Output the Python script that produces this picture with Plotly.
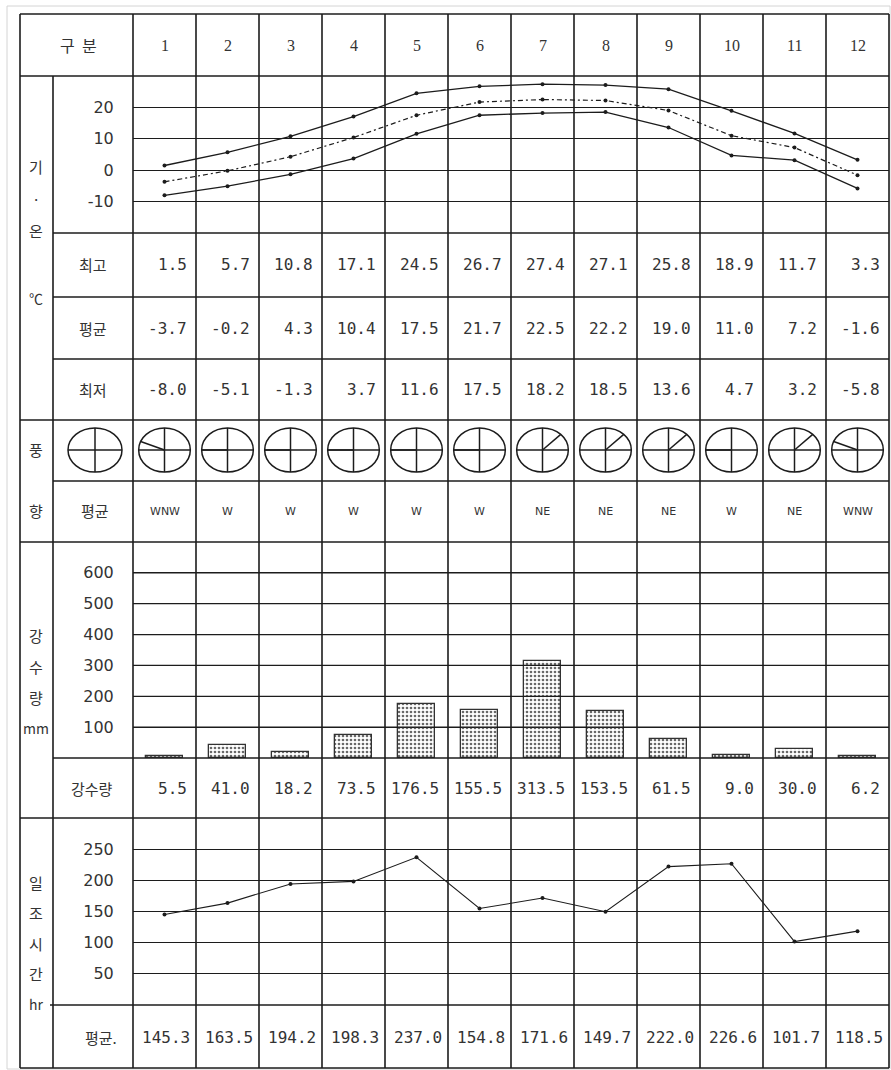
import math
import plotly.graph_objects as go

# ---------------- data ----------------
months = list(range(1, 13))
month_labels = [str(m) for m in months]
temp_max = [1.5, 5.7, 10.8, 17.1, 24.5, 26.7, 27.4, 27.1, 25.8, 18.9, 11.7, 3.3]
temp_mean = [-3.7, -0.2, 4.3, 10.4, 17.5, 21.7, 22.5, 22.2, 19.0, 11.0, 7.2, -1.6]
temp_min = [-8.0, -5.1, -1.3, 3.7, 11.6, 17.5, 18.2, 18.5, 13.6, 4.7, 3.2, -5.8]
wind_dir = ["WNW", "W", "W", "W", "W", "W", "NE", "NE", "NE", "W", "NE", "WNW"]
precip = [5.5, 41.0, 18.2, 73.5, 176.5, 155.5, 313.5, 153.5, 61.5, 9.0, 30.0, 6.2]
sunshine = [145.3, 163.5, 194.2, 198.3, 237.0, 154.8, 171.6, 149.7, 222.0, 226.6, 101.7, 118.5]
temp_ticks = [-10, 0, 10, 20]
temp_tick_text = ["-10", "0", "10", "20"]
precip_ticks = [100, 200, 300, 400, 500, 600]
sun_ticks = [50, 100, 150, 200, 250]
dir_angle = {"E": 0, "NE": 45, "N": 90, "NW": 135, "WNW": 157.5, "W": 180,
             "SW": 225, "S": 270, "SE": 315}

# ---------------- layout geometry (pixels) ----------------
W, H = 891, 1070
X_LEFT, X_SUB, X0, CW = 20, 53, 133, 63
X_RIGHT = X0 + 12 * CW
Y_TOP, Y_BOTTOM = 14, 1068

def px(x):
    return x / W

def py(y):
    return 1 - y / H

INK = "#1c1c1c"
TXT = "#333333"
KFONT = "Noto Sans CJK KR"
NFONT = "DejaVu Sans Mono"

fig = go.Figure()

line_style = dict(color=INK, width=1.3)
mk = dict(color=INK, size=4)

fig.add_trace(go.Scatter(x=months, y=temp_max, mode="lines+markers", line=line_style,
                         marker=mk, xaxis="x", yaxis="y", name="최고"))
fig.add_trace(go.Scatter(x=months, y=temp_mean, mode="lines+markers",
                         line=dict(color=INK, width=1.2, dash="5px,3px,2px,3px"),
                         marker=mk, xaxis="x", yaxis="y", name="평균"))
fig.add_trace(go.Scatter(x=months, y=temp_min, mode="lines+markers", line=line_style,
                         marker=mk, xaxis="x", yaxis="y", name="최저"))
fig.add_trace(go.Bar(x=months, y=precip, width=0.6, xaxis="x", yaxis="y2", name="강수량",
                     opacity=0.8,
                     marker=dict(color="#444444",
                                 line=dict(color="#000000", width=1.3),
                                 pattern=dict(shape=".", size=4, solidity=0.35,
                                              fgcolor="#444444",
                                              bgcolor="rgba(0,0,0,0)",
                                              fillmode="replace"))))
fig.add_trace(go.Scatter(x=months, y=sunshine, mode="lines+markers",
                         line=dict(color=INK, width=1.1), marker=mk,
                         xaxis="x", yaxis="y3", name="일조시간"))

yax_common = dict(showline=False, showgrid=True, gridcolor=INK, gridwidth=1.3,
                  zeroline=False, ticks="outside", ticklen=15,
                  tickcolor="rgba(0,0,0,0)", fixedrange=True,
                  tickfont=dict(family="DejaVu Sans", size=16, color=TXT), anchor="x")

fig.update_layout(
    width=W, height=H, margin=dict(l=0, r=0, t=0, b=0),
    paper_bgcolor="white", plot_bgcolor="rgba(0,0,0,0)", showlegend=False,
    bargap=0,
    xaxis=dict(domain=[px(X0), px(X_RIGHT)], range=[0.5, 12.5], visible=False,
               fixedrange=True, anchor="y"),
    yaxis=dict(domain=[py(233), py(76)], range=[-20, 30], tickvals=temp_ticks,
               ticktext=temp_tick_text, **yax_common),
    yaxis2=dict(domain=[py(758), py(542)], range=[0, 700], tickvals=precip_ticks, **yax_common),
    yaxis3=dict(domain=[py(1005), py(818)], range=[0, 300], tickvals=sun_ticks, **yax_common),
)

shapes = []
def hline(y, x0, x1=X_RIGHT, color=INK, width=1.6):
    shapes.append(dict(type="line", xref="paper", yref="paper", x0=px(x0), x1=px(x1),
                       y0=py(y), y1=py(y), line=dict(color=color, width=width), layer="above"))

def vline_paper(x, y0, y1, color=INK, width=1.6):
    shapes.append(dict(type="line", xref="paper", yref="paper", x0=px(x), x1=px(x),
                       y0=py(y0), y1=py(y1), line=dict(color=color, width=width), layer="above"))

# faint scan frame
shapes.append(dict(type="rect", xref="paper", yref="paper", x0=px(7), x1=px(890),
                   y0=py(1069), y1=py(6), line=dict(color="#d4d4d4", width=1)))

# precipitation grid drawn over the bars (as in the printed table)
for t in precip_ticks:
    shapes.append(dict(type="line", xref="x", yref="y2", x0=0.5, x1=12.5,
                       y0=t, y1=t, line=dict(color=INK, width=1.3), layer="above"))

# horizontal table rules
for y, x0 in [(Y_TOP, X_LEFT), (76, X_LEFT), (233, X_SUB), (297, X_SUB), (359, X_SUB),
              (420, X_LEFT), (481, X_SUB), (542, X_LEFT), (758, X_SUB), (818, X_LEFT),
              (1005, X_SUB - 3), (Y_BOTTOM, X_LEFT)]:
    hline(y, x0)

# vertical table rules
vline_paper(X_LEFT, Y_TOP, Y_BOTTOM)
vline_paper(X_SUB, 76, Y_BOTTOM)
vline_paper(X0, Y_TOP, Y_BOTTOM)
vline_paper(X_RIGHT, Y_TOP, Y_BOTTOM)
for m in months[:-1]:
    shapes.append(dict(type="line", xref="x", yref="paper", x0=m + 0.5, x1=m + 0.5,
                       y0=py(Y_BOTTOM), y1=py(Y_TOP), line=dict(color=INK, width=1.6),
                       layer="above"))

# wind roses
RC, RA, RB = 450, 0.41, 22  # centre y px, x half-width (month units), y half-height px
def rose(xref, cx, ax_half, direction=None):
    shapes.append(dict(type="circle", xref=xref, yref="paper", x0=cx - ax_half, x1=cx + ax_half,
                       y0=py(RC + RB), y1=py(RC - RB), line=dict(color=INK, width=1.5)))
    shapes.append(dict(type="line", xref=xref, yref="paper", x0=cx, x1=cx,
                       y0=py(RC + RB), y1=py(RC - RB), line=dict(color=INK, width=1.5)))
    shapes.append(dict(type="line", xref=xref, yref="paper", x0=cx - ax_half, x1=cx + ax_half,
                       y0=py(RC), y1=py(RC), line=dict(color=INK, width=1.5)))
    if direction is not None:
        th = math.radians(dir_angle[direction])
        shapes.append(dict(type="line", xref=xref, yref="paper", x0=cx,
                           x1=cx + ax_half * math.cos(th), y0=py(RC),
                           y1=py(RC - RB * math.sin(th)), line=dict(color=INK, width=1.5)))

rose("paper", px(95), px(27))
for m, d in zip(months, wind_dir):
    rose("x", m, RA, d)

fig.update_layout(shapes=shapes)

ann = []
def text(x, y, s, xref="paper", font=KFONT, size=15, xanchor="center", color=TXT):
    ann.append(dict(x=x, y=py(y), xref=xref, yref="paper", text=s, showarrow=False,
                    xanchor=xanchor, yanchor="middle",
                    font=dict(family=font, size=size, color=color)))

# header
text(px(78), 45, "구  분", size=16)
for m, lab in zip(months, month_labels):
    text(m, 46, lab, xref="x", font="Liberation Serif", size=16)

# left group labels
for y, s in [(167, "기"), (198, "·"), (230, "온"), (298, "℃"),
             (450, "풍"), (511, "향"),
             (635, "강"), (666, "수"), (697, "량"), (728, "mm"),
             (882, "일"), (912, "조"), (943, "시"), (973, "간"), (1004, "hr")]:
    text(px(36), y, s, size=14 if s in ("mm", "hr", "℃") else 15)

# sub labels
text(px(93), 265, "최고")
text(px(93), 328, "평균")
text(px(93), 390, "최저")
text(px(95), 511, "평균")
text(px(92), 788, "강수량")
text(px(101), 1037, "평균.")

RIGHT_PAD = 7 / CW
for m, a, b, c, p, s, d in zip(months, temp_max, temp_mean, temp_min, precip, sunshine, wind_dir):
    text(m + 0.5 - RIGHT_PAD, 265, f"{a:.1f}", xref="x", font=NFONT, size=16, xanchor="right")
    text(m + 0.5 - RIGHT_PAD, 328, f"{b:.1f}", xref="x", font=NFONT, size=16, xanchor="right")
    text(m + 0.5 - RIGHT_PAD, 390, f"{c:.1f}", xref="x", font=NFONT, size=16, xanchor="right")
    text(m, 512, d, xref="x", font="DejaVu Sans", size=11)
    text(m + 0.5 - RIGHT_PAD, 788, f"{p:.1f}", xref="x", font=NFONT, size=16, xanchor="right")
    text(m + 0.5 - 4 / CW, 1037, f"{s:.1f}", xref="x", font=NFONT, size=16, xanchor="right")

fig.update_layout(annotations=ann)

fig.write_html("out.html", config={"displayModeBar": False},
               post_script="document.body.style.margin='0';")
